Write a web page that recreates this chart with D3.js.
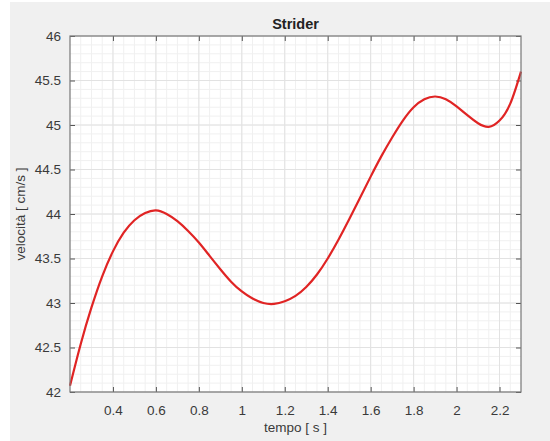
<!DOCTYPE html>
<html>
<head>
<meta charset="utf-8">
<script src="https://cdn.jsdelivr.net/npm/d3@7"></script>
<style>
  html, body { margin: 0; padding: 0; background: #ffffff; }
  svg { display: block; }
  text { font-family: "Liberation Sans", Arial, Helvetica, sans-serif; }
</style>
</head>
<body>
<svg id="chart" width="550" height="441"></svg>
<script>
// Speed profile of the strider over time
const tempo = [0.20, 0.25, 0.30, 0.35, 0.40, 0.45, 0.50, 0.55, 0.60, 0.65,
               0.70, 0.75, 0.80, 0.85, 0.90, 0.95, 1.00, 1.05, 1.10, 1.15,
               1.20, 1.25, 1.30, 1.35, 1.40, 1.45, 1.50, 1.55, 1.60, 1.65,
               1.70, 1.75, 1.80, 1.85, 1.90, 1.95, 2.00, 2.05, 2.10, 2.15,
               2.20, 2.25, 2.30];
const velocita = [42.07, 42.54, 42.95, 43.30, 43.58, 43.79, 43.93, 44.01, 44.04, 44.00,
                  43.92, 43.81, 43.68, 43.53, 43.38, 43.24, 43.13, 43.05, 43.00, 42.99,
                  43.02, 43.08, 43.18, 43.32, 43.50, 43.71, 43.94, 44.18, 44.42, 44.65,
                  44.86, 45.05, 45.20, 45.29, 45.32, 45.29, 45.21, 45.11, 45.02, 44.98,
                  45.05, 45.24, 45.60];

const xTicks = [0.4, 0.6, 0.8, 1, 1.2, 1.4, 1.6, 1.8, 2, 2.2];
const yTicks = [42, 42.5, 43, 43.5, 44, 44.5, 45, 45.5, 46];
const xDomain = [0.2, 2.3];
const yDomain = [42, 46];
const titolo = "Strider";
const xLabel = "tempo [ s ]";
const yLabel = "velocità [ cm/s ]";

const svg = d3.select("#chart");
const W = 550, H = 441;
const m = { left: 70, right: 29, top: 36, bottom: 49 };
const pw = W - m.left - m.right, ph = H - m.top - m.bottom;

// figure background
svg.append("rect").attr("x", 10).attr("y", 2).attr("width", W - 10).attr("height", H - 2)
  .attr("fill", "#f0f0f0");

const x = d3.scaleLinear().domain(xDomain).range([m.left, m.left + pw]);
const y = d3.scaleLinear().domain(yDomain).range([m.top + ph, m.top]);

const g = svg.append("g");
g.append("rect").attr("x", m.left).attr("y", m.top).attr("width", pw).attr("height", ph)
  .attr("fill", "#ffffff");

// minor grid
const xMinor = d3.range(0, 47).map(i => +(0.2 + i * 0.05).toFixed(2)).filter(v => v > 0.2 && v < 2.3);
const yMinor = d3.range(0, 41).map(i => +(42 + i * 0.1).toFixed(2)).filter(v => v > 42 && v < 46);
g.append("g").selectAll("line").data(xMinor).join("line")
  .attr("x1", d => x(d)).attr("x2", d => x(d)).attr("y1", m.top).attr("y2", m.top + ph)
  .attr("stroke", "#f0f0f0").attr("stroke-width", 1);
g.append("g").selectAll("line").data(yMinor).join("line")
  .attr("y1", d => y(d)).attr("y2", d => y(d)).attr("x1", m.left).attr("x2", m.left + pw)
  .attr("stroke", "#f0f0f0").attr("stroke-width", 1);

// major grid
g.append("g").selectAll("line").data(xTicks).join("line")
  .attr("x1", d => x(d)).attr("x2", d => x(d)).attr("y1", m.top).attr("y2", m.top + ph)
  .attr("stroke", "#e2e2e2").attr("stroke-width", 1);
g.append("g").selectAll("line").data(yTicks).join("line")
  .attr("y1", d => y(d)).attr("y2", d => y(d)).attr("x1", m.left).attr("x2", m.left + pw)
  .attr("stroke", "#e2e2e2").attr("stroke-width", 1);

// axes with inward ticks
const fmt = d => String(d);
function styleAxis(sel, showText) {
  sel.select(".domain").remove();
  sel.selectAll(".tick line").attr("stroke", "#555").attr("stroke-width", 1);
  sel.selectAll(".tick text").attr("fill", "#3a3a3a").attr("font-size", 13.5)
    .style("display", showText ? null : "none");
}
g.append("g").attr("transform", `translate(0,${m.top + ph})`)
  .call(d3.axisBottom(x).tickValues(xTicks).tickFormat(fmt).tickSizeInner(-5).tickPadding(13))
  .call(s => styleAxis(s, true));
g.append("g").attr("transform", `translate(0,${m.top})`)
  .call(d3.axisTop(x).tickValues(xTicks).tickSizeInner(-5))
  .call(s => styleAxis(s, false));
g.append("g").attr("transform", `translate(${m.left},0)`)
  .call(d3.axisLeft(y).tickValues(yTicks).tickFormat(fmt).tickSizeInner(-5).tickPadding(9))
  .call(s => styleAxis(s, true));
g.append("g").attr("transform", `translate(${m.left + pw},0)`)
  .call(d3.axisRight(y).tickValues(yTicks).tickSizeInner(-5))
  .call(s => styleAxis(s, false));

// data line
const data = tempo.map((t, i) => [t, velocita[i]]);
g.append("path").datum(data)
  .attr("fill", "none").attr("stroke", "#e02424").attr("stroke-width", 2.2)
  .attr("stroke-linejoin", "round")
  .attr("d", d3.line().x(d => x(d[0])).y(d => y(d[1])).curve(d3.curveNatural));

// box
g.append("rect").attr("x", m.left).attr("y", m.top).attr("width", pw).attr("height", ph)
  .attr("fill", "none").attr("stroke", "#777").attr("stroke-width", 1.2);

// title and labels
svg.append("text").attr("x", m.left + pw / 2).attr("y", 29).attr("text-anchor", "middle")
  .attr("font-size", 14.5).attr("font-weight", "bold").attr("fill", "#222").text(titolo);
svg.append("text").attr("x", m.left + pw / 2).attr("y", 432).attr("text-anchor", "middle")
  .attr("font-size", 13.5).attr("fill", "#3a3a3a").text(xLabel);
svg.append("text").attr("transform", `translate(25,${m.top + ph / 2}) rotate(-90)`)
  .attr("text-anchor", "middle").attr("font-size", 13.5).attr("fill", "#3a3a3a").text(yLabel);
</script>
</body>
</html>
